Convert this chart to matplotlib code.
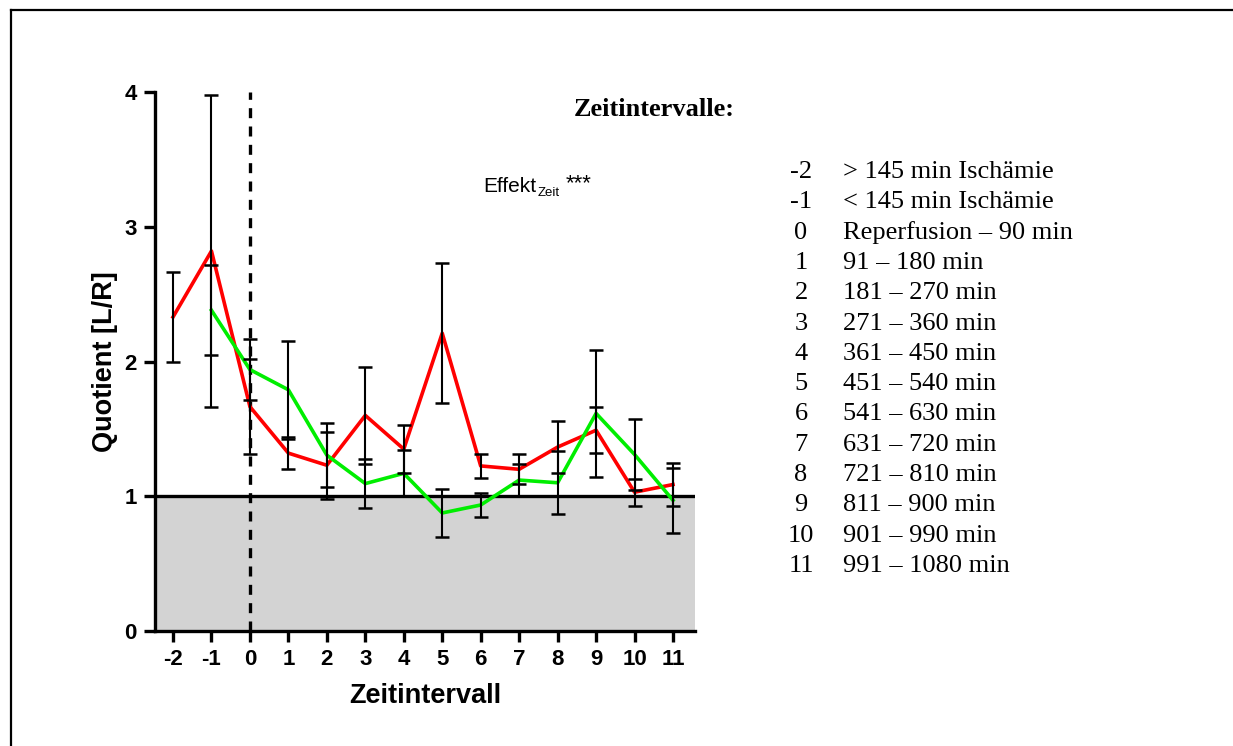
import numpy as np
import matplotlib.pyplot as plt
from matplotlib.lines import Line2D

plt.rcParams['font.family'] = ['Liberation Sans', 'DejaVu Sans']

# Zeitintervalle
x = [-2, -1, 0, 1, 2, 3, 4, 5, 6, 7, 8, 9, 10, 11]

# red series (from -2 on) with SEM
red_mean = [2.33, 2.82, 1.665, 1.32, 1.23, 1.60, 1.35, 2.21, 1.225, 1.20, 1.365, 1.49, 1.03, 1.087]
red_err = [0.335, 1.16, 0.35, 0.12, 0.25, 0.36, 0.18, 0.52, 0.09, 0.11, 0.195, 0.17, 0.10, 0.16]

# green series (starts at -1)
green_x = x[1:]
green_mean = [2.38, 1.94, 1.79, 1.305, 1.094, 1.17, 0.876, 0.935, 1.12, 1.10, 1.615, 1.31, 0.97]
green_err = [0.335, 0.225, 0.365, 0.24, 0.18, 0.17, 0.175, 0.09, 0.12, 0.235, 0.47, 0.26, 0.24]

legend_keys = ['-2', '-1', '0', '1', '2', '3', '4', '5', '6', '7', '8', '9', '10', '11']
legend_text = ['> 145 min Ischämie', '< 145 min Ischämie', 'Reperfusion \u2013 90 min',
               '91 \u2013 180 min', '181 \u2013 270 min', '271 \u2013 360 min',
               '361 \u2013 450 min', '451 \u2013 540 min', '541 \u2013 630 min',
               '631 \u2013 720 min', '721 \u2013 810 min', '811 \u2013 900 min',
               '901 \u2013 990 min', '991 \u2013 1080 min']

W, H = 1233, 746
fig = plt.figure(figsize=(W / 100, H / 100), dpi=100)
ax = fig.add_axes([155 / W, 1 - 631 / H, 540 / W, 539 / H])

ax.set_xlim(-2.468, 11.572)
ax.set_ylim(0, 4)

# grey band below quotient 1
ax.axhspan(0, 1, color='#d3d3d3', zorder=0)
ax.axhline(1, color='black', lw=2.4, zorder=2)
ax.axvline(0, color='black', lw=2.4, ls=(0, (3, 2.5)), zorder=2)

ax.plot(x, red_mean, color='#ff0000', lw=2.6, zorder=3)
ax.plot(green_x, green_mean, color='#00ee00', lw=2.6, zorder=3)
ax.errorbar(x, red_mean, yerr=red_err, fmt='none', ecolor='black',
            elinewidth=1.5, capsize=5, capthick=1.8, zorder=4)
ax.errorbar(green_x, green_mean, yerr=green_err, fmt='none', ecolor='black',
            elinewidth=1.5, capsize=5, capthick=1.8, zorder=4)

for s in ['top', 'right']:
    ax.spines[s].set_visible(False)
for s in ['left', 'bottom']:
    ax.spines[s].set_linewidth(2.4)

ax.set_xticks(x)
ax.set_xticklabels([str(v) for v in x])
ax.set_yticks([0, 1, 2, 3, 4])
ax.tick_params(axis='both', width=2.4, length=8, labelsize=16, pad=5)
for lab in ax.get_xticklabels() + ax.get_yticklabels():
    lab.set_fontweight('bold')

ax.set_xlabel('Zeitintervall', fontsize=19.5, fontweight='bold', labelpad=9)
ax.set_ylabel('Quotient [L/R]', fontsize=19.5, fontweight='bold', labelpad=5)

# Effekt_Zeit *** annotation, placed piece by piece
def px(xp, yp):
    return xp / W, 1 - yp / H

fig.text(*px(483, 192), 'Effekt', fontsize=15, ha='left', va='baseline')
fig.text(*px(538, 196), 'Zeit', fontsize=9.5, ha='left', va='baseline')
fig.text(*px(566, 189), '***', fontsize=16, ha='left', va='baseline')

# legend of the time intervals
fig.text(*px(654, 110), 'Zeitintervalle:', family='Liberation Serif',
         fontsize=19, fontweight='bold', ha='center', va='center')
for i, (k, t) in enumerate(zip(legend_keys, legend_text)):
    xk, yy = px(801, 172 + i * 30.3)
    fig.text(xk, yy, k, family='Liberation Serif', fontsize=19,
             ha='center', va='center')
    fig.text(843 / W, yy, t, family='Liberation Serif', fontsize=19,
             ha='left', va='center')

# frame lines (top and left)
fig.add_artist(Line2D([11 / W, 1.0], [1 - 10 / H, 1 - 10 / H], color='black', lw=1.6))
fig.add_artist(Line2D([11 / W, 11 / W], [0, 1 - 10 / H], color='black', lw=1.6))

fig.savefig('out.png', dpi=100)
